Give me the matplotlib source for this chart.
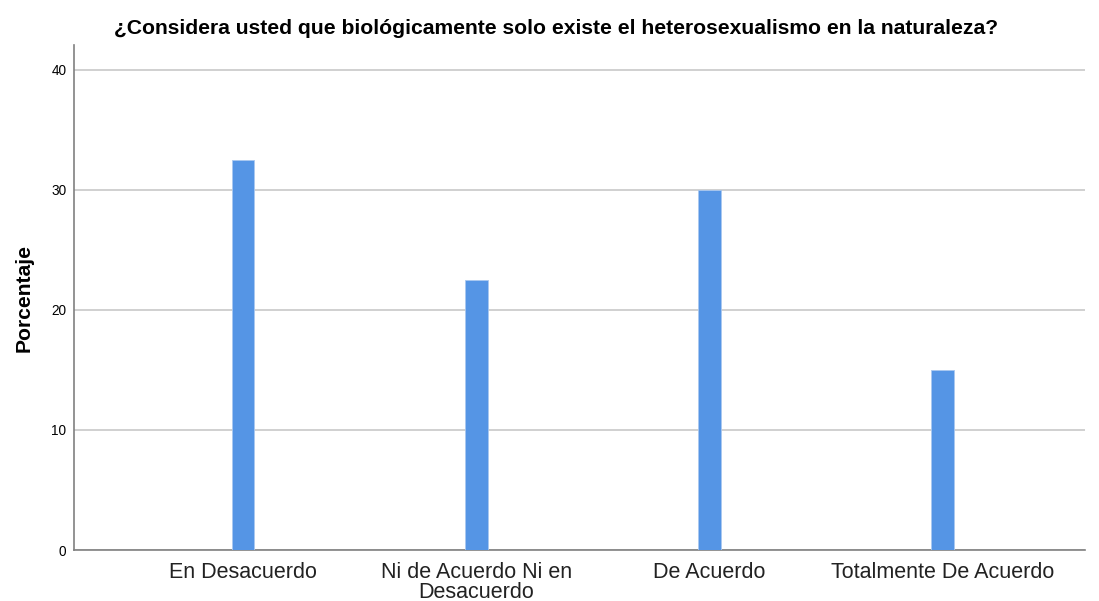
import matplotlib
matplotlib.use("Agg")
from matplotlib import pyplot as plt

categories = ["En Desacuerdo", "Ni de Acuerdo Ni en\nDesacuerdo", "De Acuerdo",
              "Totalmente De Acuerdo"]
porcentaje = [32.5, 22.5, 30.0, 15.0]
yticks = [0, 10, 20, 30, 40]

title = "¿Considera usted que biológicamente solo existe el heterosexualismo en la naturaleza?"

plt.rcParams['font.family'] = ['Liberation Sans', 'DejaVu Sans']

fig = plt.figure(figsize=(10.99, 6.01), dpi=100)
ax = fig.add_axes([74 / 1099, 51 / 601, (1085 - 74) / 1099, (550 - 45) / 601])

pos = list(range(len(categories)))
ax.bar(pos, porcentaje, width=0.097, color="#5595e5", edgecolor="#a9c8f0",
       linewidth=0.6, zorder=3)

ax.set_xlim(-0.725, 3.61)
ax.set_ylim(0, 42.08)
ax.set_yticks(yticks)
ax.set_yticklabels([str(t) for t in yticks], fontsize=9.8)
ax.set_xticks(pos)
ax.set_xticklabels(categories, fontsize=15.5, color="#222222", linespacing=0.92)
ax.tick_params(axis='x', length=0, pad=8.5)
ax.tick_params(axis='y', length=0, pad=5.5)
ax.yaxis.grid(True, color="#c8c8c8", linewidth=1.2, zorder=0)

for side in ("top", "right"):
    ax.spines[side].set_visible(False)
for side in ("left", "bottom"):
    ax.spines[side].set_color("#808080")
    ax.spines[side].set_linewidth(1.2)

ax.set_ylabel("Porcentaje", fontsize=15.2, fontweight="bold", labelpad=13)
fig.text(556 / 1099, 1 - 29 / 601, title, ha="center", va="center",
         fontsize=15.2, fontweight="bold")

fig.savefig("out.png", dpi=100)
